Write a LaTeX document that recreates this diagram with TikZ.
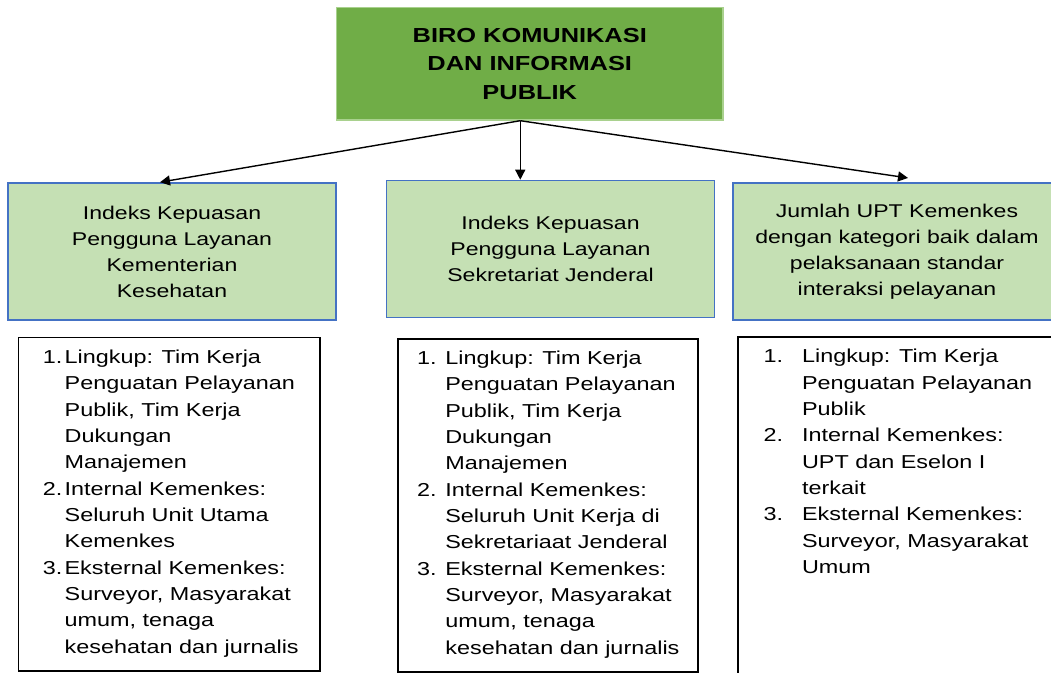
\documentclass[tikz,border=0pt]{standalone}
\usepackage{fontspec}
\setmainfont{Liberation Sans}[FakeStretch=1.25]
\usetikzlibrary{positioning,calc,arrows.meta}
\definecolor{hijau}{HTML}{70AD47}
\definecolor{tepihijau}{HTML}{A9D18E}
\definecolor{hijaumuda}{HTML}{C5E0B4}
\definecolor{biru}{HTML}{4472C4}

\begin{document}
\begin{tikzpicture}[
  kepala/.style={draw=tepihijau,fill=hijau,line width=0.8pt,minimum width=7.73cm,minimum height=2.25cm,align=center,font=\fontsize{11.56}{16.3}\selectfont\bfseries},
  indikator/.style={draw=biru,fill=hijaumuda,line width=0.9pt,minimum width=6.56cm,minimum height=2.74cm,align=center,font=\fontsize{10.5}{14.8}\selectfont},
  lingkup/.style={draw=black,line width=0.8pt},
  isi/.style={anchor=base west,inner sep=0pt,font=\fontsize{10.65}{15}\selectfont},
  panah/.style={-{Triangle[length=0.2cm,width=0.2cm]},line width=0.8pt}]
\useasboundingbox (0,0) rectangle (21.02,-13.46);
\clip (0,0) rectangle (21.02,-13.46);
\node[kepala] (bkip) at (10.595,-1.275) {BIRO KOMUNIKASI\\DAN INFORMASI\\PUBLIK};
\node[indikator] (ikpk) at (3.44,-5.03) {Indeks Kepuasan\\Pengguna Layanan\\Kementerian\\Kesehatan};
\node[indikator] (ikpsj) at (11.01,-4.98) {Indeks Kepuasan\\Pengguna Layanan\\Sekretariat Jenderal};
\node[indikator] (upt) at (17.94,-5.025) {Jumlah UPT Kemenkes\\dengan kategori baik dalam\\pelaksanaan standar\\interaksi pelayanan};
\coordinate (cabang) at ([xshift=-0.19cm]bkip.south);
\draw[panah] (cabang) -- ([xshift=-0.24cm]ikpk.north);
\draw[panah] (cabang) -- (cabang |- ikpsj.north);
\draw[panah] (cabang) -- ([xshift=0.22cm,yshift=0.08cm]upt.north);
\node[lingkup,minimum width=6.03cm,minimum height=6.67cm] (lk1) at (3.385,-10.087) {};
\node[lingkup,minimum width=6.0cm,minimum height=6.66cm] (lk2) at (10.96,-10.11) {};
\node[lingkup,minimum width=6.64cm,minimum height=6.96cm] (lk3) at (18.08,-10.22) {};
\node[isi] (tk1) at (0.85,-7.266) {\begin{tabular}[t]{@{}p{0.436cm}@{}l@{}}
1. & Lingkup: Tim Kerja\\
 & Penguatan Pelayanan\\
 & Publik, Tim Kerja\\
 & Dukungan\\
 & Manajemen\\
2. & Internal Kemenkes:\\
 & Seluruh Unit Utama\\
 & Kemenkes\\
3. & Eksternal Kemenkes:\\
 & Surveyor, Masyarakat\\
 & umum, tenaga\\
 & kesehatan dan jurnalis
\end{tabular}};
\node[isi] (tk2) at (8.334,-7.286) {\begin{tabular}[t]{@{}p{0.566cm}@{}l@{}}
1. & Lingkup: Tim Kerja\\
 & Penguatan Pelayanan\\
 & Publik, Tim Kerja\\
 & Dukungan\\
 & Manajemen\\
2. & Internal Kemenkes:\\
 & Seluruh Unit Kerja di\\
 & Sekretariaat Jenderal\\
3. & Eksternal Kemenkes:\\
 & Surveyor, Masyarakat\\
 & umum, tenaga\\
 & kesehatan dan jurnalis
\end{tabular}};
\node[isi] (tk3) at (15.266,-7.254) {\begin{tabular}[t]{@{}p{0.768cm}@{}l@{}}
1. & Lingkup: Tim Kerja\\
 & Penguatan Pelayanan\\
 & Publik\\
2. & Internal Kemenkes:\\
 & UPT dan Eselon I\\
 & terkait\\
3. & Eksternal Kemenkes:\\
 & Surveyor, Masyarakat\\
 & Umum
\end{tabular}};
\end{tikzpicture}
\end{document}
